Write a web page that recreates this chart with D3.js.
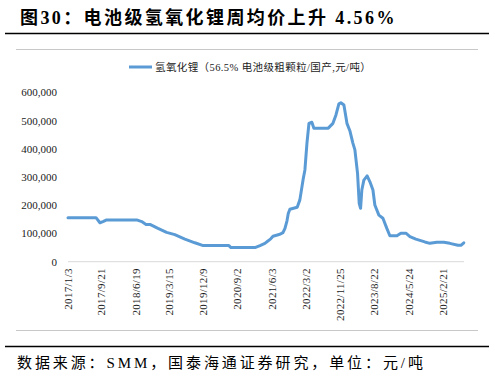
<!DOCTYPE html>
<html lang="zh">
<head>
<meta charset="UTF-8">
<title>电池级氢氧化锂周均价</title>
<script src="https://cdn.jsdelivr.net/npm/d3@7"></script>
<style>
    body { margin: 0; background: #fff; }
    svg { display: block; }
</style>
</head>
<body>
<div id="chart"></div>
<script>
    // 数据：日期 / 价格（元/吨）
    const dates = [
        "2017-01-03", "2017-08-13", "2017-09-13", "2017-10-07", "2017-11-05", "2018-07-01",
        "2018-08-10", "2018-09-13", "2018-10-14", "2018-12-17", "2019-02-23", "2019-04-29",
        "2019-07-18", "2019-10-05", "2019-12-10", "2020-07-01", "2020-07-17", "2021-01-23",
        "2021-03-04", "2021-04-12", "2021-05-08", "2021-05-30", "2021-06-15", "2021-08-09",
        "2021-09-02", "2021-09-18", "2021-10-04", "2021-10-14", "2021-10-27", "2021-12-24",
        "2022-01-14", "2022-02-10", "2022-02-23", "2022-03-11", "2022-03-27", "2022-04-19",
        "2022-05-05", "2022-08-27", "2022-10-03", "2022-10-27", "2022-11-19", "2022-12-05",
        "2022-12-29", "2023-01-22", "2023-02-14", "2023-03-10", "2023-03-26", "2023-04-16",
        "2023-04-29", "2023-05-10", "2023-05-20", "2023-06-05", "2023-07-01", "2023-07-23",
        "2023-08-16", "2023-08-31", "2023-10-02", "2023-11-03", "2023-12-04", "2023-12-28",
        "2024-02-22", "2024-03-24", "2024-05-03", "2024-06-04", "2024-07-21", "2024-09-30",
        "2024-11-09", "2025-01-03", "2025-02-28", "2025-04-16", "2025-06-19", "2025-07-13",
        "2025-08-05"
    ];
    const prices = [
        156000, 156000, 138000, 142000, 148000, 148000,
        142000, 132000, 132000, 118000, 104000, 96000,
        80000, 67000, 57000, 57000, 50000, 50000,
        57000, 65000, 74000, 82000, 90000, 97000,
        103000, 118000, 145000, 171000, 186000, 193000,
        219000, 295000, 325000, 419000, 490000, 494000,
        473000, 473000, 490000, 520000, 559000, 563000,
        555000, 490000, 464000, 420000, 396000, 313000,
        207000, 189000, 254000, 289000, 304000, 283000,
        254000, 201000, 165000, 154000, 118000, 92000,
        92000, 101000, 101000, 89000, 80000, 70000,
        65000, 69000, 69000, 65000, 58000, 58000,
        67000
    ];
    const tickDates = ["2017/1/3", "2017/9/21", "2018/6/19", "2019/3/15", "2019/12/9", "2020/9/2",
        "2021/6/3", "2022/3/2", "2022/11/25", "2023/8/22", "2024/5/24", "2025/2/21"];
    const yTicks = [0, 100000, 200000, 300000, 400000, 500000, 600000];

    const title = "图30：电池级氢氧化锂周均价上升 4.56%";
    const seriesName = "氢氧化锂（56.5% 电池级粗颗粒/国产,元/吨）";
    const source = "数据来源：SMM，国泰海通证券研究，单位：元/吨";

    const width = 495, height = 377;
    const lineColor = "#5b9bd5";
    const serif = '"Liberation Serif", "Times New Roman", "Noto Sans CJK SC", serif';

    const parse = d3.timeParse("%Y-%m-%d");
    const parseTick = d3.timeParse("%Y/%m/%d");
    const data = dates.map((d, i) => ({ date: parse(d), value: prices[i] }));

    const svg = d3.select("#chart").append("svg")
        .attr("width", width)
        .attr("height", height);

    svg.append("rect").attr("width", width).attr("height", height).attr("fill", "#fff");

    // 标题
    svg.append("text")
        .style("font-family", serif)
        .attr("x", 20)
        .attr("y", 24)
        .attr("font-size", 18)
        .attr("font-weight", "bold")
        .attr("letter-spacing", 2.4)
        .attr("fill", "#000")
        .text(title);

    // 框线
    svg.append("line").attr("x1", 5).attr("x2", 489).attr("y1", 33.5).attr("y2", 33.5)
        .attr("stroke", "#000").attr("stroke-width", 1.3);
    svg.append("line").attr("x1", 16).attr("x2", 478).attr("y1", 49.5).attr("y2", 49.5)
        .attr("stroke", "#c8c8c8").attr("stroke-width", 1);
    svg.append("line").attr("x1", 16).attr("x2", 478).attr("y1", 330.5).attr("y2", 330.5)
        .attr("stroke", "#c8c8c8").attr("stroke-width", 1);
    svg.append("line").attr("x1", 5).attr("x2", 489).attr("y1", 346.5).attr("y2", 346.5)
        .attr("stroke", "#000").attr("stroke-width", 1.3);

    // 来源
    svg.append("text")
        .style("font-family", serif)
        .attr("x", 17)
        .attr("y", 368)
        .attr("font-size", 15)
        .attr("letter-spacing", 2.9)
        .attr("fill", "#000")
        .text(source);

    // 比例尺
    const x = d3.scaleTime()
        .domain([parseTick("2017/1/3"), parseTick("2025/2/21")])
        .range([68, 443]);
    const y = d3.scaleLinear()
        .domain([0, 600000])
        .range([261.7, 92.3]);

    // y轴
    const yAxis = svg.append("g")
        .attr("transform", "translate(57,0)")
        .call(d3.axisLeft(y).tickValues(yTicks).tickSize(0).tickPadding(0)
            .tickFormat(d3.format(",")));
    yAxis.attr("font-family", null);
    yAxis.select(".domain").remove();
    yAxis.selectAll("text")
        .style("font-family", serif)
        .attr("font-size", 11)
        .attr("fill", "#1a1a1a");

    // x轴
    const xAxis = svg.append("g")
        .attr("transform", "translate(0,261.7)")
        .call(d3.axisBottom(x).tickValues(tickDates.map(parseTick)).tickSize(0)
            .tickFormat(d3.timeFormat("%Y/%-m/%-d")));
    xAxis.attr("font-family", null);
    xAxis.select(".domain")
        .attr("d", "M68,0H464")
        .attr("stroke", "#d9d9d9");
    xAxis.selectAll("text")
        .style("font-family", serif)
        .attr("font-size", 11)
        .attr("letter-spacing", 0.3)
        .attr("fill", "#1a1a1a")
        .attr("text-anchor", "end")
        .attr("transform", "rotate(-90)")
        .attr("x", -6.5)
        .attr("y", 0)
        .attr("dy", "0.35em");

    // 折线
    const line = d3.line()
        .x(d => x(d.date))
        .y(d => y(d.value));
    svg.append("path")
        .datum(data)
        .attr("fill", "none")
        .attr("stroke", lineColor)
        .attr("stroke-width", 3)
        .attr("stroke-linejoin", "round")
        .attr("stroke-linecap", "round")
        .attr("d", line);

    // 图例
    svg.append("line").attr("x1", 129).attr("x2", 152).attr("y1", 67).attr("y2", 67)
        .attr("stroke", lineColor).attr("stroke-width", 3);
    svg.append("text")
        .style("font-family", serif)
        .attr("x", 155)
        .attr("y", 70.5)
        .attr("font-size", 10.5)
        .attr("letter-spacing", 0.4)
        .attr("fill", "#222")
        .text(seriesName);
</script>
</body>
</html>
